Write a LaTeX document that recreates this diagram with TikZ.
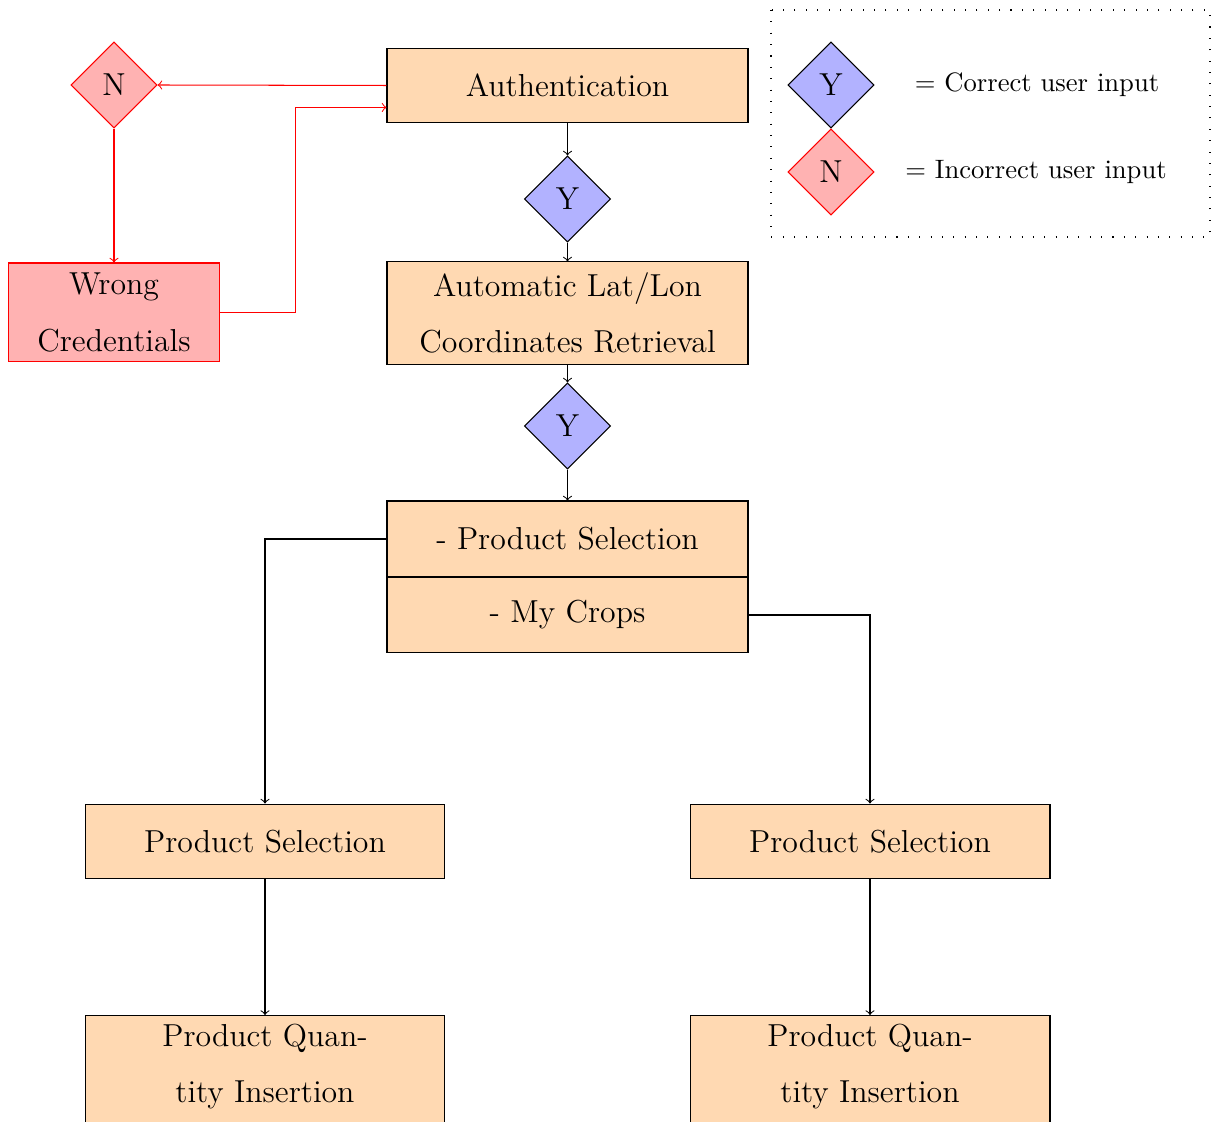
\documentclass[tikz,border=0pt]{standalone}
\usepackage{fontspec}
\usetikzlibrary{shapes.geometric}

% text sizes used in the flow chart
\newcommand{\boxfont}{\fontsize{12.3}{21.7}\selectfont}
\newcommand{\keyfont}{\fontsize{10.3}{12}\selectfont}

\begin{document}
\begin{tikzpicture}[x=0.387pt, y=-0.387pt,
  box/.style={draw=black, fill=orange!30, align=center, font=\boxfont,
              inner sep=0pt, minimum width=139.7pt, minimum height=29pt},
  yesmark/.style={diamond, aspect=1, draw=black, fill=blue!30, inner sep=0pt,
              minimum width=33.3pt, minimum height=33.3pt, font=\boxfont},
  nomark/.style={yesmark, draw=red, fill=red!30},
  flow/.style={->, draw=black},
  back/.style={->, draw=red}]

\useasboundingbox (0,0) rectangle (1222,1122);
\clip (0,0) rectangle (1222,1122);

% main column
\node[box] (auth) at (567.5,85.5) {Authentication};
\node[yesmark] (y1) at (567.5,199) {Y};
\node[box, minimum height=39.5pt] (gps) at (567.5,313) {Automatic Lat/Lon\\Coordinates Retrieval};
\node[yesmark] (y2) at (567.5,426) {Y};
\node[box, minimum height=29.4pt] (psel) at (567.5,539) {- Product Selection};
\node[box, minimum height=29.4pt] (crops) at (567.5,615) {- My Crops};

% failed login branch
\node[nomark] (n1) at (114,85) {N};
\node[box, draw=red, fill=red!30, minimum width=81.3pt, minimum height=38.3pt]
  (wrong) at (114,312.5) {Wrong\\Credentials};

% two lower branches
\node[box, minimum width=139.3pt] (lps) at (265,841.5) {Product Selection};
\node[box, minimum width=139.3pt] (rps) at (870,841.5) {Product Selection};
\node[box, anchor=north, minimum width=139.3pt, minimum height=60pt] (lpq) at (265,1015) {};
\node[font=\boxfont, align=center, inner sep=0pt] (lpqtext) at (265,1067) {Product Quan-\\tity Insertion};
\node[box, anchor=north, minimum width=139.3pt, minimum height=60pt] (rpq) at (870,1015) {};
\node[font=\boxfont, align=center, inner sep=0pt] (rpqtext) at (870,1067) {Product Quan-\\tity Insertion};

% key
\draw[loosely dotted] (771,10) rectangle (1210,237);
\node[yesmark] (ky) at (831,85) {Y};
\node[nomark] (kn) at (831,172) {N};
\node[font=\keyfont] (kyt) at (1037,85) {= Correct user input};
\node[font=\keyfont] (knt) at (1036,172) {= Incorrect user input};

% connectors
\draw[flow] (auth) -- (y1);
\draw[flow] (y1) -- (gps);
\draw[flow] (gps) -- (y2);
\draw[flow] (y2) -- (psel);
\draw[flow] (psel.west) -| (lps.north);
\draw[flow] (crops.east) -| (rps.north);
\draw[flow] (lps) -- (lpq.north);
\draw[flow] (rps) -- (rpq.north);

\draw[back] (auth.west) -- (n1.east);
\draw[back] (n1.south) -- (wrong.north);
\draw[back] (wrong.east) -- ++(76,0) |- ([yshift=-8.5pt]auth.west);
\end{tikzpicture}
\end{document}
